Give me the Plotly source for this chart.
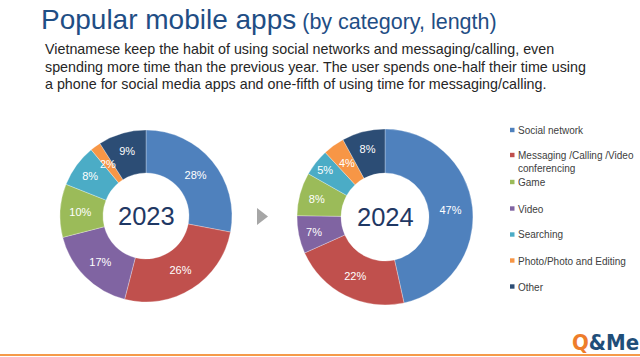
import math
import plotly.graph_objects as go

W, H = 640, 357

categories = ["Social network", "Messaging /Calling /Video conferencing", "Game", "Video",
              "Searching", "Photo/Photo and Editing", "Other"]
legend_labels = ["Social network", "Messaging /Calling /Video<br>conferencing", "Game", "Video",
                 "Searching", "Photo/Photo and Editing", "Other"]
values_2023 = [28, 26, 10, 17, 8, 2, 9]
values_2024 = [47, 22, 8, 7, 5, 4, 8]
# Drawing order clockwise from 12 o'clock: Social, Messaging, Video, Game, Searching, Photo, Other
order = [0, 1, 3, 2, 4, 5, 6]
colors = ["#4F81BD", "#C0504D", "#9BBB59", "#8064A2", "#4BACC6", "#F79646", "#2C4D75"]
years = ["2023", "2024"]

title_main = "Popular mobile apps"
title_sub = " (by category, length)"
body_lines = [
    "Vietnamese keep the habit of using social networks and messaging/calling, even",
    "spending more time than the previous year. The user spends one-half their time using",
    "a phone for social media apps and one-fifth of using time for messaging/calling.",
]


def px(x):
    return x / W


def py(y):
    return 1 - y / H


fig = go.Figure()

domains = [
    dict(x=[px(60), px(232)], y=[py(302), py(130)]),
    dict(x=[px(297), px(473)], y=[py(305), py(129)]),
]
centers = [(146, 216), (385, 217)]
radii = [86, 88]
HOLE = 0.5
SMALL = 4  # slices this small get their label placed at the slice middle (no shrinking)

annotations = []
for vals, dom, yr, (cx, cy), R in zip([values_2023, values_2024], domains, years, centers, radii):
    v = [vals[i] for i in order]
    texts = ["" if x <= SMALL else f"{x}%" for x in v]
    fig.add_trace(go.Pie(
        labels=[categories[i] for i in order],
        values=v,
        text=texts,
        marker=dict(colors=[colors[i] for i in order], line=dict(color="white", width=0.3)),
        hole=HOLE,
        sort=False,
        direction="clockwise",
        rotation=0,
        domain=dom,
        texttemplate="%{text}",
        textposition="inside",
        insidetextorientation="horizontal",
        textfont=dict(family="Liberation Sans, Arial", size=11, color="white"),
        showlegend=False,
        hoverinfo="label+value",
    ))
    total = sum(v)
    cum = 0
    rmid = R * (1 + HOLE) / 2
    for x in v:
        if x <= SMALL:
            ang = (cum + x / 2) / total * 2 * math.pi  # clockwise from 12 o'clock
            lx = cx + rmid * math.sin(ang)
            ly = cy - rmid * math.cos(ang)
            annotations.append(dict(
                x=px(lx), y=py(ly), xref="paper", yref="paper", text=f"{x}%",
                showarrow=False, xanchor="center", yanchor="middle",
                font=dict(family="Liberation Sans, Arial", size=11, color="white")))
        cum += x

for (cx, cy), yr in zip(centers, years):
    annotations.append(dict(
        x=px(cx), y=py(cy), xref="paper", yref="paper", text=yr, showarrow=False,
        font=dict(family="Liberation Sans, Arial", size=25.5, color="#1F3864"),
        xanchor="center", yanchor="middle"))

# Title
annotations.append(dict(
    x=px(39), y=py(19.5), xref="paper", yref="paper",
    text=f"{title_main}<span style='font-size:21.5px'>{title_sub}</span>",
    showarrow=False, xanchor="left", yanchor="middle",
    font=dict(family="Liberation Sans, Arial", size=28, color="#1F4E85")))

# Body text
for i, line in enumerate(body_lines):
    annotations.append(dict(
        x=px(43), y=py(49 + i * 17.5), xref="paper", yref="paper", text=line,
        showarrow=False, xanchor="left", yanchor="middle",
        font=dict(family="Liberation Sans, Arial", size=14.3, color="#262626")))

# Legend (custom)
legend_y = [130, 155, 182, 208.5, 234.5, 260.5, 286.5]
shapes = []
for lbl, col, ly in zip(legend_labels, colors, legend_y):
    shapes.append(dict(type="rect", xref="paper", yref="paper",
                       x0=px(510), x1=px(514.5), y0=py(ly + 2.2), y1=py(ly - 2.2),
                       fillcolor=col, line=dict(width=0)))
    annotations.append(dict(
        x=px(516), y=py(ly - 7), xref="paper", yref="paper", text=lbl, showarrow=False,
        xanchor="left", yanchor="top", align="left",
        font=dict(family="Liberation Sans, Arial", size=10, color="#404040")))

# Arrow triangle
shapes.append(dict(type="path", xref="paper", yref="paper",
                   path=f"M {px(257)},{py(208)} L {px(268)},{py(216.5)} L {px(257)},{py(225)} Z",
                   fillcolor="#A6A6A6", line=dict(width=0)))

# Bottom orange line
shapes.append(dict(type="line", xref="paper", yref="paper",
                   x0=0, x1=1, y0=py(355), y1=py(355),
                   line=dict(color="#F59A4A", width=2)))

# Logo
annotations.append(dict(
    x=px(641), y=py(342), xref="paper", yref="paper",
    text="<b><span style='color:#EE7D2B'>Q</span><span style='color:#1F4E79'>&amp;Me</span></b>",
    showarrow=False, xanchor="right", yanchor="middle",
    font=dict(family="DejaVu Sans Condensed, Liberation Sans, Arial", size=22)))

fig.update_layout(
    width=W, height=H,
    margin=dict(l=0, r=0, t=0, b=0),
    paper_bgcolor="white", plot_bgcolor="white",
    annotations=annotations, shapes=shapes,
    showlegend=False,
)

fig.write_html("out.html",
               config={"displayModeBar": False},
               post_script="document.body.style.margin='0';document.body.style.overflow='hidden';")
